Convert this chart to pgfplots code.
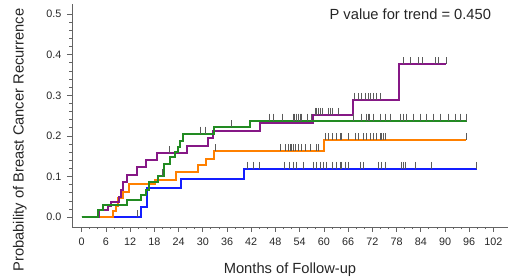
\documentclass[border=0pt]{standalone}
\usepackage{fontspec}
\setmainfont{Liberation Sans}
\usepackage{pgfplots}
\pgfplotsset{compat=1.18}
\definecolor{kmgreen}{RGB}{34,139,34}
\definecolor{kmpurple}{RGB}{134,24,134}
\definecolor{kmorange}{RGB}{255,128,0}
\definecolor{kmblue}{RGB}{20,30,255}
\definecolor{axisgray}{RGB}{100,100,100}
\definecolor{censgray}{RGB}{90,90,90}
\pgfplotsset{
  km/.style={line width=2.0pt, const plot mark left, mark=none, solid, line join=miter},
  cens/.style={only marks, mark=|, mark size=3.5pt, censgray, mark options={line width=0.75pt, yshift=3.5pt, solid}},
}
\begin{document}
\begin{tikzpicture}
\begin{axis}[name=ax, scale only axis, width=436pt, height=223pt,
  xmin=-2.4, xmax=105.6, ymin=-0.024, ymax=0.525,
  axis lines=left, axis line style={draw=axisgray, line width=0.8pt, -},
  xtick={0,6,...,102}, minor x tick num=2,
  ytick={0,0.1,0.2,0.3,0.4,0.5}, minor y tick num=4,
  tick align=outside, major tick length=5pt, minor tick length=2.5pt,
  every tick/.style={axisgray, line width=0.8pt},
  /pgf/number format/assume math mode=true,
  ticklabel style={font=\fontsize{10.8}{12}\selectfont, text=black!85},
  yticklabel style={/pgf/number format/fixed, /pgf/number format/fixed zerofill, /pgf/number format/precision=1, xshift=-2pt},
  xticklabel style={yshift=-2.4pt},
  xlabel={Months of Follow-up},
  ylabel={Probability of Breast Cancer Recurrence},
  label style={font=\fontsize{14.7}{17}\selectfont, text=black!85},
  xlabel style={at={(axis description cs:0.5,-0.2085)}, anchor=base},
  ylabel style={at={(axis description cs:-0.1112,0.39)}, anchor=base},
  clip=false,
]
% blue
\addplot[km, kmblue] coordinates {
(0,0) (14.7,0.025) (16.3,0.071) (24.6,0.095) (40.2,0.119) (97.9,0.119)};
% orange
\addplot[km, kmorange] coordinates {
(0,0) (7.8,0.016) (8.5,0.027) (9.1,0.047) (10.2,0.063) (11.6,0.081) (18.2,0.092)
(23.4,0.112) (28.9,0.128) (30.9,0.144) (32.7,0.162) (59.9,0.189) (95.3,0.189)};
% purple
\addplot[km, kmpurple] coordinates {
(0,0) (4.4,0.017) (6.6,0.028) (7.2,0.037) (9.3,0.050) (9.7,0.067) (10.2,0.087)
(11.1,0.105) (13.7,0.123) (15.9,0.140) (18.7,0.157) (26.1,0.176) (31.3,0.194)
(32.5,0.212) (44.2,0.231) (57.2,0.252) (67.1,0.289) (78.7,0.377) (90.3,0.377)};
% green
\addplot[km, kmgreen] coordinates {
(0,0) (4.1,0.017) (5.3,0.029) (11.2,0.043) (14.7,0.055) (16.0,0.068) (16.6,0.088)
(18.8,0.102) (20.3,0.130) (21.9,0.148) (23.0,0.160) (23.8,0.174) (24.4,0.188)
(25.0,0.206) (32.7,0.222) (41.7,0.238) (95.5,0.238)};
% censor marks: blue
\addplot[cens] coordinates {
(13.8,0)
(41.1,0.119) (42.5,0.119) (43.9,0.119) (50.1,0.119) (51.5,0.119) (52.4,0.119) (53.3,0.119)
(54.9,0.119) (57.4,0.119) (58.2,0.119) (59.1,0.119) (59.9,0.119) (60.7,0.119) (62.0,0.119)
(63.2,0.119) (64.0,0.119) (64.4,0.119) (65.3,0.119) (66.1,0.119) (69.0,0.119) (69.8,0.119)
(73.5,0.119) (74.3,0.119) (75.2,0.119) (79.3,0.119) (79.7,0.119) (80.1,0.119) (82.6,0.119)
(86.7,0.119) (97.8,0.119)};
% censor marks: orange
\addplot[cens] coordinates {
(33.2,0.162) (49.1,0.162) (50.4,0.162) (51.2,0.162) (51.6,0.162) (52.0,0.162) (52.4,0.162)
(52.9,0.162) (53.7,0.162) (54.5,0.162) (55.3,0.162) (56.6,0.162) (58.2,0.162) (58.6,0.162)
(60.3,0.189) (61.1,0.189) (62.0,0.189) (63.2,0.189) (64.0,0.189) (64.4,0.189) (66.1,0.189)
(67.7,0.189) (68.5,0.189) (69.8,0.189) (70.6,0.189) (71.5,0.189) (72.3,0.189) (73.1,0.189)
(73.9,0.189) (74.3,0.189) (74.7,0.189) (75.2,0.189) (95.4,0.189)};
% censor marks: purple
\addplot[cens] coordinates {
(21.6,0.157)
(57.8,0.252) (58.2,0.252) (58.6,0.252) (59.1,0.252) (59.5,0.252) (61.1,0.252) (61.5,0.252)
(62.0,0.252) (63.6,0.252)
(67.5,0.289) (68.6,0.289) (69.4,0.289) (70.2,0.289) (71.0,0.289) (71.4,0.289) (72.3,0.289)
(73.1,0.289) (73.9,0.289)
(79.7,0.377) (81.4,0.377) (83.4,0.377) (84.3,0.377) (87.6,0.377) (88.4,0.377) (90.3,0.377)};
% censor marks: green
\addplot[cens] coordinates {
(20.0,0.102) (29.4,0.206) (30.6,0.206) (37.2,0.222)
(46.4,0.238) (47.5,0.238) (49.6,0.238) (52.4,0.238) (52.8,0.238) (53.3,0.238) (53.7,0.238)
(54.1,0.238) (54.5,0.238) (55.8,0.238) (57.0,0.238) (67.3,0.238) (69.4,0.238) (70.6,0.238)
(70.9,0.238) (71.2,0.238) (72.3,0.238) (73.9,0.238) (75.2,0.238) (76.4,0.238) (78.9,0.238)
(79.7,0.238) (80.4,0.238) (82.2,0.238) (83.8,0.238) (85.5,0.238) (87.1,0.238) (88.8,0.238)
(90.9,0.238) (92.5,0.238) (93.8,0.238) (95.4,0.238)};
\node[anchor=base, font=\fontsize{14.7}{17}\selectfont, text=black!85] at (axis cs:81.4,0.4865) {P value for trend = 0.450};
\end{axis}
\pgfresetboundingbox
\path[use as bounding box] ([xshift=-72pt,yshift=-53pt]ax.south west) rectangle ([yshift=4pt]ax.north east);
\end{tikzpicture}
\end{document}
